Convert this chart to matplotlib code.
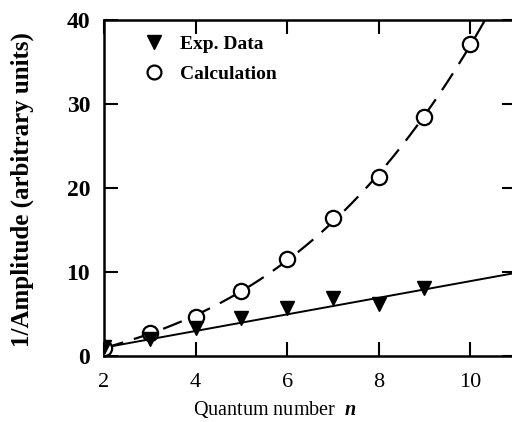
import numpy as np
import matplotlib
matplotlib.use("Agg")
import matplotlib.pyplot as plt
from matplotlib.lines import Line2D

# Valeurs
n_exp = [2, 3, 4, 5, 6, 7, 8, 9]
inv_amp_exp = [1.1, 2.0, 3.3, 4.5, 5.7, 6.9, 6.2, 8.1]

n_calc = [2, 3, 4, 5, 6, 7, 8, 9, 10]
inv_amp_calc = [1.0, 2.7, 4.6, 7.7, 11.5, 16.4, 21.3, 28.5, 37.1]

# droite d'ajustement (trait plein)
n_fit = [2, 11]
inv_amp_fit = [1.0, 9.9]

plt.rcParams["font.family"] = ["Liberation Serif", "DejaVu Serif"]
plt.rcParams["mathtext.fontset"] = "custom"
plt.rcParams["mathtext.it"] = "Liberation Serif:italic:bold"

fig = plt.figure(figsize=(5.12, 4.22), dpi=100)
ax = fig.add_axes([104 / 512, 66 / 422, 412 / 512, 336 / 422])

# courbe calculée lissée (tirets)
coef = np.polyfit(n_calc, inv_amp_calc, 3)
n_lisse = np.linspace(2, 10.6, 200)
ax.plot(n_lisse, np.polyval(coef, n_lisse), color="black", lw=1.6,
        linestyle=(0, (9, 5)), zorder=2)
ax.plot(n_fit, inv_amp_fit, color="black", lw=1.4, zorder=2)

ax.plot(n_calc, inv_amp_calc, "o", ms=11, mfc="white", mec="black", mew=1.6,
        linestyle="none", zorder=3)
ax.plot(n_exp, inv_amp_exp, "v", ms=10, color="black", linestyle="none", zorder=4)

ax.set_xlim(2, 11)
ax.set_ylim(0, 40)
ax.set_xticks([2, 4, 6, 8, 10])
ax.set_yticks([0, 10, 20, 30, 40])

for s in ax.spines.values():
    s.set_linewidth(1.8)
ax.tick_params(direction="in", length=10, width=1.5, top=True, right=True)
ax.tick_params(axis="x", labelsize=16, pad=12)
ax.tick_params(axis="y", labelsize=17, pad=10)
for lab in ax.get_yticklabels():
    lab.set_fontweight("bold")

ax.set_xlabel("Quantum number  $n$", fontsize=14.5)
ax.xaxis.set_label_coords(0.415, -0.128)
ax.set_ylabel("1/Amplitude (arbitrary units)", fontsize=18, fontweight="bold")
ax.yaxis.set_label_coords(-0.17, 0.494)

poignees = [
    Line2D([], [], marker="v", color="black", linestyle="none", ms=10),
    Line2D([], [], marker="o", mfc="white", mec="black", mew=1.6,
           linestyle="none", ms=10),
]
leg = ax.legend(poignees, ["Exp. Data", "Calculation"], loc="upper left",
                bbox_to_anchor=(0.097, 0.955), frameon=False, borderpad=0,
                borderaxespad=0, prop={"size": 14, "weight": "bold"},
                handletextpad=0.85, labelspacing=0.65, handlelength=1.0)

fig.savefig("out.png", dpi=100)
